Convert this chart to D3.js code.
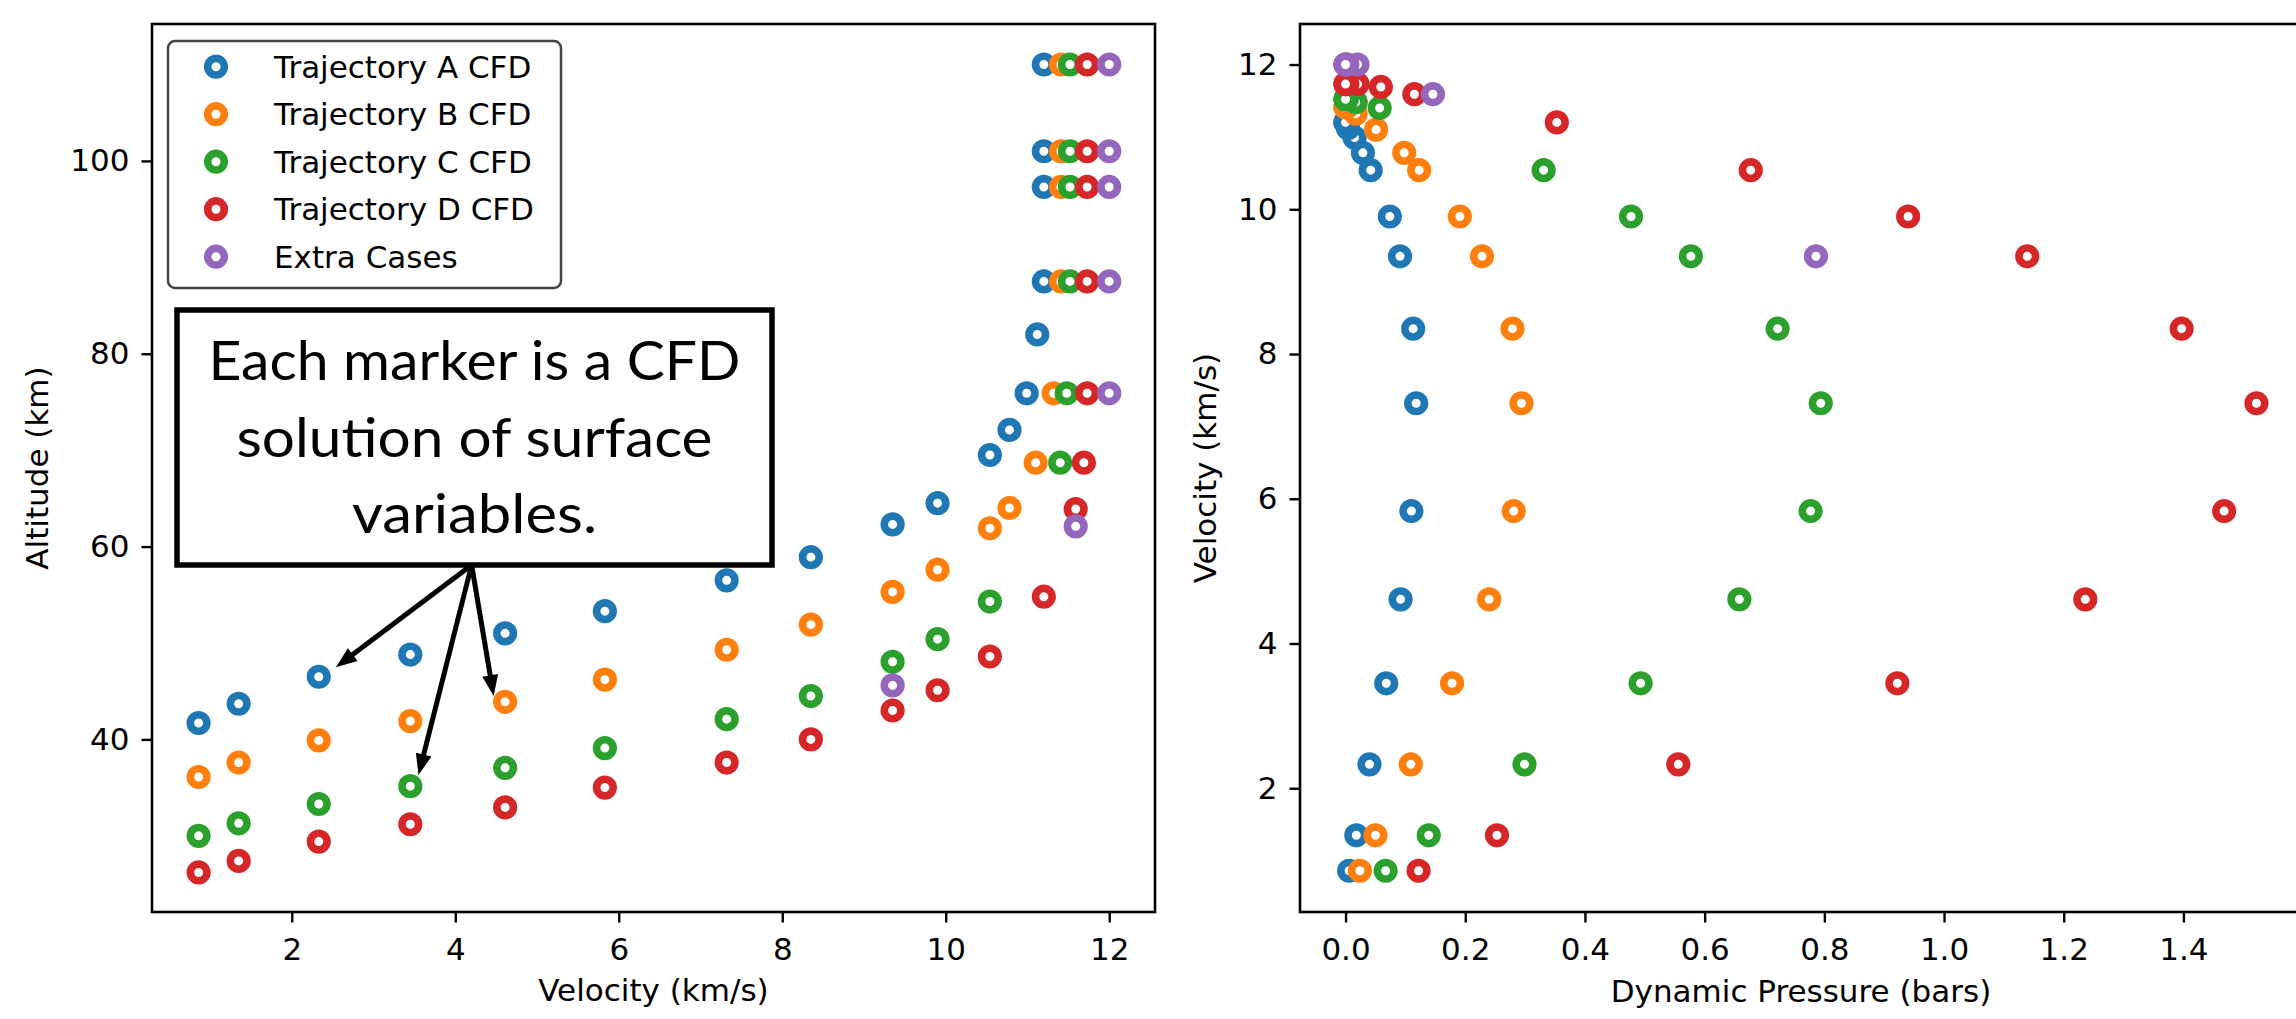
<!DOCTYPE html>
<html><head><meta charset="utf-8">
<script src="https://cdn.jsdelivr.net/npm/d3@7"></script>
<style>body{margin:0;background:#fff} svg{display:block}</style>
</head><body>
<svg id="chart" width="2296" height="1019"></svg>
<script>
// ---------------- data ----------------
const seriesNames = ["Trajectory A CFD", "Trajectory B CFD", "Trajectory C CFD", "Trajectory D CFD", "Extra Cases"];

const velocityA = [0.86, 1.35, 2.33, 3.45, 4.61, 5.83, 7.32, 8.35, 9.35, 9.90, 10.54, 10.78, 10.99, 11.12, 11.2, 11.2, 11.2, 11.2];
const altitudeA = [41.7, 43.7, 46.5, 48.8, 51.0, 53.3, 56.5, 58.9, 62.3, 64.5, 69.5, 72.1, 75.9, 82.0, 87.5, 97.3, 101.0, 110.0];
const pressureA = [0.006, 0.018, 0.040, 0.068, 0.092, 0.110, 0.118, 0.113, 0.091, 0.074, 0.042, 0.029, 0.015, 0.004, 0.001, 0.0, 0.0, 0.0];

const velocityB = [0.86, 1.35, 2.33, 3.45, 4.61, 5.83, 7.32, 8.35, 9.35, 9.90, 10.54, 10.78, 11.10, 11.32, 11.41, 11.41, 11.41, 11.41];
const altitudeB = [36.1, 37.6, 39.9, 41.9, 43.9, 46.2, 49.3, 51.9, 55.3, 57.6, 61.9, 64.0, 68.7, 75.9, 87.5, 97.3, 101.0, 110.0];
const pressureB = [0.024, 0.050, 0.109, 0.178, 0.240, 0.281, 0.294, 0.279, 0.228, 0.191, 0.123, 0.098, 0.051, 0.017, 0.002, 0.0, 0.0, 0.0];

const velocityC = [0.86, 1.35, 2.33, 3.45, 4.61, 5.83, 7.32, 8.35, 9.35, 9.90, 10.54, 11.40, 11.48, 11.52, 11.52, 11.52, 11.52];
const altitudeC = [30.0, 31.3, 33.3, 35.15, 37.05, 39.1, 42.1, 44.5, 48.05, 50.4, 54.3, 68.7, 75.9, 87.5, 97.3, 101.0, 110.0];
const pressureC = [0.067, 0.139, 0.299, 0.493, 0.658, 0.777, 0.794, 0.722, 0.577, 0.477, 0.331, 0.057, 0.017, 0.002, 0.0, 0.0, 0.0];

const velocityD = [0.86, 1.35, 2.33, 3.45, 4.61, 5.83, 7.32, 8.35, 9.35, 9.90, 10.54, 11.2, 11.59, 11.69, 11.73, 11.73, 11.73, 11.73, 11.73];
const altitudeD = [26.2, 27.4, 29.4, 31.2, 32.95, 35.0, 37.6, 40.0, 43.0, 45.1, 48.6, 54.8, 63.9, 68.7, 75.9, 87.5, 97.3, 101.0, 110.0];
const pressureD = [0.122, 0.253, 0.556, 0.922, 1.236, 1.468, 1.522, 1.397, 1.139, 0.940, 0.677, 0.353, 0.115, 0.059, 0.020, 0.003, 0.0, 0.0, 0.0];

const velocityE = [9.35, 11.59, 12.0, 12.0, 12.0, 12.0, 12.0];
const altitudeE = [45.6, 62.1, 75.9, 87.5, 97.3, 101.0, 110.0];
const pressureE = [0.786, 0.146, 0.020, 0.003, 0.0, 0.0, 0.0];

const leftXTicks = [2, 4, 6, 8, 10, 12];
const leftYTicks = [40, 60, 80, 100];
const rightXTicks = [0.0, 0.2, 0.4, 0.6, 0.8, 1.0, 1.2, 1.4];
const rightYTicks = [2, 4, 6, 8, 10, 12];

const velocityLimits = [0.29, 12.56];
const altitudeLimits = [22.1, 114.2];
const pressureLimits = [-0.0761, 1.5981];

const annotationLines = ["Each marker is a CFD", "solution of surface", "variables."];
const annotationOrigin = [4.20, 58.09];            // velocity, altitude
const annotationTargets = [[2.54, 47.48], [3.55, 36.31], [4.47, 44.5]];

const leftXLabel = "Velocity (km/s)", leftYLabel = "Altitude (km)";
const rightXLabel = "Dynamic Pressure (bars)", rightYLabel = "Velocity (km/s)";

// ---------------- styles ----------------
const colors = ["#1f77b4", "#ff7f0e", "#2ca02c", "#d62728", "#9467bd"];
const FONT = "'DejaVu Sans', sans-serif";
const FS = 31;
const MR = 8.3, MSW = 7.6;

const series = [
  {v: velocityA, a: altitudeA, q: pressureA},
  {v: velocityB, a: altitudeB, q: pressureB},
  {v: velocityC, a: altitudeC, q: pressureC},
  {v: velocityD, a: altitudeD, q: pressureD},
  {v: velocityE, a: altitudeE, q: pressureE}
];

const svg = d3.select("#chart");
const L = {x0: 152, x1: 1155, y0: 24, y1: 912};
const R = {x0: 1300, x1: 2302, y0: 24, y1: 912};

const xL = d3.scaleLinear().domain(velocityLimits).range([L.x0, L.x1]);
const yL = d3.scaleLinear().domain(altitudeLimits).range([L.y1, L.y0]);
const xR = d3.scaleLinear().domain(pressureLimits).range([R.x0, R.x1]);
const yR = d3.scaleLinear().domain(velocityLimits).range([R.y1, R.y0]);

// points
const gL = svg.append("g");
const gR = svg.append("g");
series.forEach((s, i) => {
  const pts = s.v.map((v, j) => ({v, a: s.a[j], q: s.q[j]}));
  gL.selectAll(null).data(pts).enter().append("circle")
    .attr("cx", d => xL(d.v)).attr("cy", d => yL(d.a)).attr("r", MR)
    .attr("fill", "#fff").attr("stroke", colors[i]).attr("stroke-width", MSW);
  gR.selectAll(null).data(pts).enter().append("circle")
    .attr("cx", d => xR(d.q)).attr("cy", d => yR(d.v)).attr("r", MR)
    .attr("fill", "#fff").attr("stroke", colors[i]).attr("stroke-width", MSW);
});

// axes
function styleAxis(g) {
  g.select(".domain").remove();
  g.selectAll("line").attr("stroke", "#000").attr("stroke-width", 2.4);
  g.selectAll("text").attr("font-family", FONT).attr("font-size", FS).attr("fill", "#000");
}
svg.append("g").attr("transform", `translate(0,${L.y1})`)
  .call(d3.axisBottom(xL).tickValues(leftXTicks).tickSize(10.5).tickPadding(15).tickFormat(d3.format("d"))).call(styleAxis);
svg.append("g").attr("transform", `translate(${L.x0},0)`)
  .call(d3.axisLeft(yL).tickValues(leftYTicks).tickSize(10.5).tickPadding(12).tickFormat(d3.format("d"))).call(styleAxis);
svg.append("g").attr("transform", `translate(0,${R.y1})`)
  .call(d3.axisBottom(xR).tickValues(rightXTicks).tickSize(10.5).tickPadding(15).tickFormat(d3.format(".1f"))).call(styleAxis);
svg.append("g").attr("transform", `translate(${R.x0},0)`)
  .call(d3.axisLeft(yR).tickValues(rightYTicks).tickSize(10.5).tickPadding(12).tickFormat(d3.format("d"))).call(styleAxis);

// spines
[L, R].forEach(b => {
  svg.append("rect").attr("x", b.x0).attr("y", b.y0).attr("width", b.x1 - b.x0).attr("height", b.y1 - b.y0)
    .attr("fill", "none").attr("stroke", "#000").attr("stroke-width", 2.6);
});

// axis labels
function label(x, y, txt, rot) {
  svg.append("text").attr("transform", `translate(${x},${y})` + (rot ? " rotate(-90)" : ""))
    .attr("text-anchor", "middle").attr("font-family", FONT).attr("font-size", FS).attr("fill", "#000")
    .text(txt);
}
label((L.x0 + L.x1) / 2, 1001, leftXLabel, false);
label(1801, 1002, rightXLabel, false);
label(48, (L.y0 + L.y1) / 2, leftYLabel, true);
label(1216, (R.y0 + R.y1) / 2, rightYLabel, true);

// legend
const leg = svg.append("g");
leg.append("rect").attr("x", 168).attr("y", 41).attr("width", 393).attr("height", 247).attr("rx", 7)
  .attr("fill", "#fff").attr("fill-opacity", 0.85).attr("stroke", "#444").attr("stroke-width", 2.5);
seriesNames.forEach((n, i) => {
  const y = 66.7 + i * 47.5;
  leg.append("circle").attr("cx", 216).attr("cy", y).attr("r", MR)
    .attr("fill", "#fff").attr("stroke", colors[i]).attr("stroke-width", MSW);
  leg.append("text").attr("x", 274).attr("y", y).attr("dy", "0.36em")
    .attr("font-family", FONT).attr("font-size", FS).attr("fill", "#000").text(n);
});

// annotation box
const ann = svg.append("g");
ann.append("rect").attr("x", 177).attr("y", 310).attr("width", 595).attr("height", 255)
  .attr("fill", "#fff").attr("stroke", "#000").attr("stroke-width", 5.5);
const lineBase = [380, 457, 533];
const lineWidths = [532, 476, 245];
annotationLines.forEach((t, i) => {
  ann.append("text").attr("x", 474.5).attr("y", lineBase[i]).attr("text-anchor", "middle")
    .attr("font-family", "Lato, 'Open Sans', sans-serif").attr("font-size", 54).attr("fill", "#000")
    .attr("textLength", lineWidths[i]).attr("lengthAdjust", "spacingAndGlyphs")
    .text(t);
});

// arrows
const ox = xL(annotationOrigin[0]), oy = yL(annotationOrigin[1]);
annotationTargets.forEach(t => {
  const tx = xL(t[0]), ty = yL(t[1]);
  const dx = tx - ox, dy = ty - oy, len = Math.hypot(dx, dy);
  const ux = dx / len, uy = dy / len;
  const hl = 21, hw = 8;
  const bx = tx - ux * hl, by = ty - uy * hl;
  ann.append("line").attr("x1", ox).attr("y1", oy).attr("x2", bx + ux * 2).attr("y2", by + uy * 2)
    .attr("stroke", "#000").attr("stroke-width", 5);
  ann.append("polygon")
    .attr("points", `${tx},${ty} ${bx - uy * hw},${by + ux * hw} ${bx + uy * hw},${by - ux * hw}`)
    .attr("fill", "#000");
});
</script>
</body></html>
